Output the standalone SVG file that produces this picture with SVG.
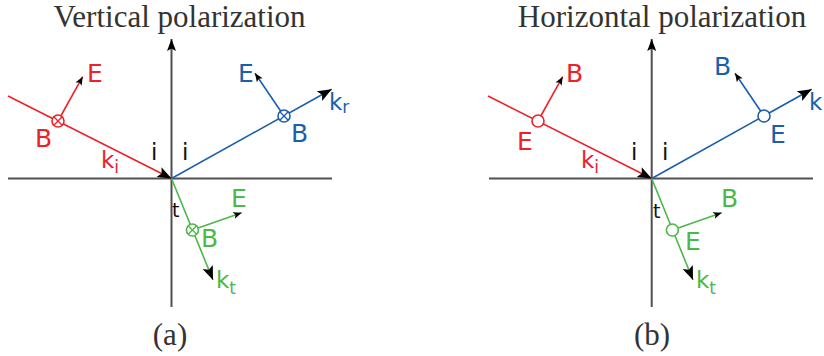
<svg xmlns="http://www.w3.org/2000/svg" width="824" height="356" viewBox="0 0 824 356">
<style>
.bg{fill:#ffffff}
.axis{stroke:#505050;stroke-width:2;fill:none}
.ray{stroke-width:1.6;fill:none}
.r{stroke:#ec2227}
.b{stroke:#1b5fab}
.g{stroke:#4cb848}
.circ{fill:#ffffff;stroke-width:1.6}
.x{stroke-width:1.3}
.lab{font-family:"DejaVu Sans","Verdana",sans-serif;font-size:25px}
.kl{font-family:"DejaVu Sans","Verdana",sans-serif;font-size:23px}
.sub{font-size:17px}
.blk{fill:#111111}
.tr{fill:#ec2227}
.tb{fill:#1b5fab}
.tg{fill:#4cb848}
.title{font-family:"Liberation Serif","Times New Roman",serif;font-size:31px;fill:#333333;text-anchor:middle}
</style>
<defs>
<marker id="ah" markerUnits="userSpaceOnUse" markerWidth="16" markerHeight="12" viewBox="-15 -6 16 12" refX="0" refY="0" orient="auto"><path d="M0,0 L-14,-5.5 L-11,0 L-14,5.5 Z" fill="#000"/></marker>
<marker id="as" markerUnits="userSpaceOnUse" markerWidth="10" markerHeight="8" viewBox="-9 -4 10 8" refX="0" refY="0" orient="auto"><path d="M0,0 L-8.5,-3.5 L-6.5,0 L-8.5,3.5 Z" fill="#000"/></marker>
<marker id="aa" markerUnits="userSpaceOnUse" markerWidth="14" markerHeight="12" viewBox="-13 -6 14 12" refX="0" refY="0" orient="auto"><path d="M0,0 L-12,-4.5 L-9.5,0 L-12,4.5 Z" fill="#000"/></marker>
</defs>
<rect class="bg" x="0" y="0" width="824" height="356"/>

<g id="panel-a">
  <text class="title" x="179.5" y="27">Vertical polarization</text>
  <g id="axes-a">
    <line class="axis" x1="8" y1="178.5" x2="332" y2="178.5"/>
    <line class="axis" x1="171.5" y1="307" x2="171.5" y2="39" marker-end="url(#aa)"/>
  </g>
  <g id="connectors-a">
    <line class="ray r" x1="8" y1="96" x2="171.5" y2="178.5" marker-end="url(#ah)"/>
    <line class="ray b" x1="171.5" y1="178.5" x2="331.7" y2="89.3" marker-end="url(#ah)"/>
    <line class="ray g" x1="171.5" y1="178.5" x2="213" y2="280" marker-end="url(#ah)"/>
    <line class="ray r" x1="58" y1="121" x2="82.7" y2="76.7" marker-end="url(#as)"/>
    <line class="ray b" x1="284" y1="116" x2="255" y2="73.3" marker-end="url(#as)"/>
    <line class="ray g" x1="192.4" y1="230" x2="241.7" y2="212.7" marker-end="url(#as)"/>
  </g>
  <g id="incident-a">
    <circle class="circ r" cx="58" cy="121" r="6"/>
    <path class="x r" d="M53.8,116.8 L62.2,125.2 M62.2,116.8 L53.8,125.2"/>
    <text class="lab tr" x="87" y="82">E</text>
    <text class="lab tr" x="35" y="147">B</text>
    <text class="kl tr" x="101" y="168">k<tspan class="sub" dy="5">i</tspan></text>
  </g>
  <g id="reflected-a">
    <circle class="circ b" cx="284" cy="116" r="6"/>
    <path class="x b" d="M279.8,111.8 L288.2,120.2 M288.2,111.8 L279.8,120.2"/>
    <text class="lab tb" x="238" y="82">E</text>
    <text class="lab tb" x="291" y="142">B</text>
    <text class="kl tb" x="329" y="110">k<tspan class="sub" dy="3">r</tspan></text>
  </g>
  <g id="transmitted-a">
    <circle class="circ g" cx="192.4" cy="230" r="6"/>
    <path class="x g" d="M188.2,225.8 L196.6,234.2 M196.6,225.8 L188.2,234.2"/>
    <text class="lab tg" x="231" y="207">E</text>
    <text class="lab tg" x="201" y="247">B</text>
    <text class="kl tg" x="216" y="288">k<tspan class="sub" dy="6">t</tspan></text>
  </g>
  <g id="angles-a">
    <text class="kl blk" x="151" y="160">i</text>
    <text class="kl blk" x="182" y="160">i</text>
    <text class="lab blk" x="172" y="217" style="font-size:19px">t</text>
  </g>
  <text class="title" x="170" y="345">(a)</text>
</g>

<g id="panel-b">
  <text class="title" x="662" y="27">Horizontal polarization</text>
  <g id="axes-b">
    <line class="axis" x1="489" y1="178.5" x2="813" y2="178.5"/>
    <line class="axis" x1="651.7" y1="307" x2="651.7" y2="39" marker-end="url(#aa)"/>
  </g>
  <g id="connectors-b">
    <line class="ray r" x1="488" y1="96" x2="651.7" y2="178.5" marker-end="url(#ah)"/>
    <line class="ray b" x1="651.7" y1="178.5" x2="811.7" y2="89.3" marker-end="url(#ah)"/>
    <line class="ray g" x1="651.7" y1="178.5" x2="693" y2="280" marker-end="url(#ah)"/>
    <line class="ray r" x1="538" y1="121" x2="562.7" y2="76.7" marker-end="url(#as)"/>
    <line class="ray b" x1="764" y1="116" x2="735" y2="73.3" marker-end="url(#as)"/>
    <line class="ray g" x1="672.4" y1="230" x2="721.7" y2="212.7" marker-end="url(#as)"/>
  </g>
  <g id="incident-b">
    <circle class="circ r" cx="538" cy="121" r="6"/>
    <text class="lab tr" x="566" y="82">B</text>
    <text class="lab tr" x="517" y="150">E</text>
    <text class="kl tr" x="581" y="168">k<tspan class="sub" dy="5">i</tspan></text>
  </g>
  <g id="reflected-b">
    <circle class="circ b" cx="764" cy="116" r="6"/>
    <text class="lab tb" x="714" y="75">B</text>
    <text class="lab tb" x="770" y="143">E</text>
    <text class="kl tb" x="809" y="110">k</text>
  </g>
  <g id="transmitted-b">
    <circle class="circ g" cx="672.4" cy="230" r="6"/>
    <text class="lab tg" x="721" y="207">B</text>
    <text class="lab tg" x="685" y="250">E</text>
    <text class="kl tg" x="696" y="288">k<tspan class="sub" dy="6">t</tspan></text>
  </g>
  <g id="angles-b">
    <text class="kl blk" x="631" y="160">i</text>
    <text class="kl blk" x="662" y="160">i</text>
    <text class="lab blk" x="653" y="218" style="font-size:19px">t</text>
  </g>
  <text class="title" x="652" y="345">(b)</text>
</g>
</svg>
